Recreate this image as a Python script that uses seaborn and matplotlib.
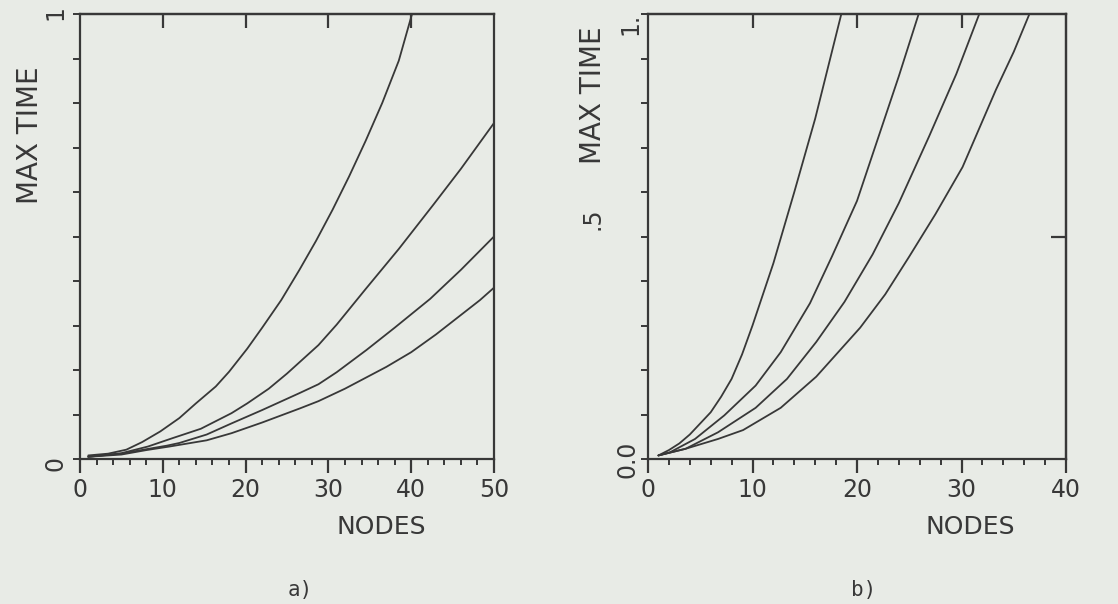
import seaborn as sns
import matplotlib.pyplot as plt
import pandas as pd

# --- VALEURS ---
# a) quatre courbes, 0..50 noeuds
nodes_a1 = [1, 3.4, 5.6, 7.5, 9.7, 12, 14, 16.4, 18, 20.2, 22, 24.3, 26.5, 28.5, 30.5, 32.5, 34.5, 36.5, 38.5, 40.1]
time_a1 = [0.008, 0.012, 0.021, 0.038, 0.062, 0.092, 0.125, 0.163, 0.196, 0.248, 0.295, 0.357, 0.425, 0.49, 0.56,
           0.635, 0.715, 0.8, 0.895, 1.0]
nodes_a2 = [1, 5, 8.2, 11.2, 14.6, 18.3, 20.2, 22.8, 25, 28.8, 31, 34.5, 38.5, 42.7, 46, 50]
time_a2 = [0.005, 0.013, 0.028, 0.047, 0.068, 0.103, 0.125, 0.158, 0.192, 0.256, 0.302, 0.382, 0.472, 0.572, 0.652, 0.755]
nodes_a3 = [1, 5, 8, 10.5, 12, 15.3, 18.3, 22, 26.5, 28.8, 31, 34.6, 38, 42.3, 46, 50]
time_a3 = [0.005, 0.012, 0.022, 0.03, 0.036, 0.055, 0.08, 0.11, 0.148, 0.168, 0.195, 0.245, 0.295, 0.36, 0.425, 0.5]
nodes_a4 = [1, 5, 8, 10.8, 15.3, 18.3, 22, 26.6, 28.8, 32, 37, 40, 43, 48.3, 50]
time_a4 = [0.005, 0.01, 0.02, 0.028, 0.042, 0.058, 0.082, 0.114, 0.13, 0.158, 0.207, 0.24, 0.28, 0.357, 0.385]

# b) quatre courbes, 0..40 noeuds
nodes_b1 = [1, 2, 3, 4, 5, 6, 7, 8, 9, 10, 11, 12, 14, 16, 18.5]
time_b1 = [0.008, 0.02, 0.035, 0.055, 0.08, 0.105, 0.14, 0.18, 0.235, 0.3, 0.37, 0.44, 0.6, 0.765, 1.0]
nodes_b2 = [1, 2.1, 4.5, 7.3, 10.3, 12.7, 15.5, 17.6, 20, 22, 24, 25.9]
time_b2 = [0.008, 0.015, 0.045, 0.098, 0.165, 0.24, 0.35, 0.455, 0.58, 0.72, 0.86, 1.0]
nodes_b3 = [1, 3.6, 6.7, 10.3, 13.3, 16.1, 18.8, 21.5, 24, 26.9, 29.5, 31.7]
time_b3 = [0.008, 0.023, 0.06, 0.115, 0.18, 0.263, 0.353, 0.46, 0.575, 0.725, 0.865, 1.0]
nodes_b4 = [1, 3.6, 6.7, 9.1, 12.7, 16.1, 20.3, 22.7, 25, 27.5, 30.1, 33.3, 35, 36.5]
time_b4 = [0.008, 0.023, 0.045, 0.065, 0.115, 0.185, 0.295, 0.37, 0.455, 0.55, 0.656, 0.83, 0.915, 1.0]

PAPER = '#e8ebe6'
INK = '#383838'


def to_long(curves):
    frames = [pd.DataFrame({'nodes': x, 'max_time': y, 'curve': i}) for i, (x, y) in enumerate(curves)]
    return pd.concat(frames, ignore_index=True)


df_a = to_long([(nodes_a1, time_a1), (nodes_a2, time_a2), (nodes_a3, time_a3), (nodes_a4, time_a4)])
df_b = to_long([(nodes_b1, time_b1), (nodes_b2, time_b2), (nodes_b3, time_b3), (nodes_b4, time_b4)])

sns.set_theme(style="ticks")
plt.rcParams['font.family'] = ['DejaVu Sans']


def style_axes(ax, xmax, top_ticks):
    ax.set_facecolor(PAPER)
    ax.set_xlim(0, xmax)
    ax.set_ylim(0, 1)
    for s in ax.spines.values():
        s.set_visible(True)
        s.set_color(INK)
        s.set_linewidth(1.6)
    ax.set_xticks(range(0, xmax + 1, 10))
    ax.set_xticks(range(0, xmax + 1, 2), minor=True)
    ax.tick_params(axis='x', which='major', direction='out', length=10, width=1.6,
                   color=INK, labelsize=17, labelcolor=INK, pad=4)
    ax.tick_params(axis='x', which='minor', direction='out', length=4.5, width=1.4, color=INK)
    ax.set_yticks([i / 10 for i in range(11)])
    ax.set_yticklabels([])
    ax.tick_params(axis='y', direction='out', length=5, width=1.4, color=INK)
    ax.set_xlabel('')
    ax.set_ylabel('')
    top = ax.secondary_xaxis('top')
    top.set_xticks(top_ticks)
    top.set_xticklabels([''] * len(top_ticks))
    top.tick_params(direction='in', length=10, width=1.6, color=INK)
    top.spines['top'].set_color(INK)
    top.spines['top'].set_linewidth(1.6)


fig = plt.figure(figsize=(11.18, 6.04), dpi=100, facecolor=PAPER)
ax_a = fig.add_axes([80 / 1118, 145 / 604, 414 / 1118, 445 / 604])
ax_b = fig.add_axes([648 / 1118, 145 / 604, 418 / 1118, 445 / 604])

sns.lineplot(data=df_a, x='nodes', y='max_time', units='curve', estimator=None,
             color=INK, lw=1.3, ax=ax_a)
sns.lineplot(data=df_b, x='nodes', y='max_time', units='curve', estimator=None,
             color=INK, lw=1.3, ax=ax_b)

style_axes(ax_a, 50, [10, 20, 30, 40])
style_axes(ax_b, 40, [10, 20, 30])

# petit repere sur l'axe droit de b)
right = ax_b.secondary_yaxis('right')
right.set_yticks([0.5])
right.set_yticklabels([''])
right.tick_params(direction='in', length=11, width=1.6, color=INK)
right.spines['right'].set_color(INK)
right.spines['right'].set_linewidth(1.6)

# graduations verticales (texte tourne, style traceur)
ylab = dict(rotation=90, ha='center', va='center', fontsize=17, color=INK)
ax_a.text(-0.060, -0.009, '0', transform=ax_a.transAxes, **ylab)
ax_a.text(-0.060, 1.004, '1', transform=ax_a.transAxes, **ylab)
ax_b.text(-0.050, 0.0, '0.0', transform=ax_b.transAxes, **ylab)
ax_b.text(-0.132, 0.539, '.5', transform=ax_b.transAxes, **ylab)
ax_b.text(-0.043, 0.978, '1.', transform=ax_b.transAxes, **ylab)

ax_a.text(-0.121, 0.728, 'MAX TIME', rotation=90, transform=ax_a.transAxes,
          ha='center', va='center', fontsize=20, color=INK)
ax_b.text(-0.132, 0.818, 'MAX TIME', rotation=90, transform=ax_b.transAxes,
          ha='center', va='center', fontsize=20, color=INK)
ax_a.text(0.727, -0.153, 'NODES', transform=ax_a.transAxes,
          ha='center', va='center', fontsize=18, color=INK)
ax_b.text(0.770, -0.153, 'NODES', transform=ax_b.transAxes,
          ha='center', va='center', fontsize=18, color=INK)

fig.text(300 / 1118, 1 - 590 / 604, 'a)', family='DejaVu Sans Mono', fontsize=15,
         ha='center', va='center', color=INK)
fig.text(864 / 1118, 1 - 590 / 604, 'b)', family='DejaVu Sans Mono', fontsize=15,
         ha='center', va='center', color=INK)

fig.savefig('out.png', dpi=100, facecolor=PAPER)
